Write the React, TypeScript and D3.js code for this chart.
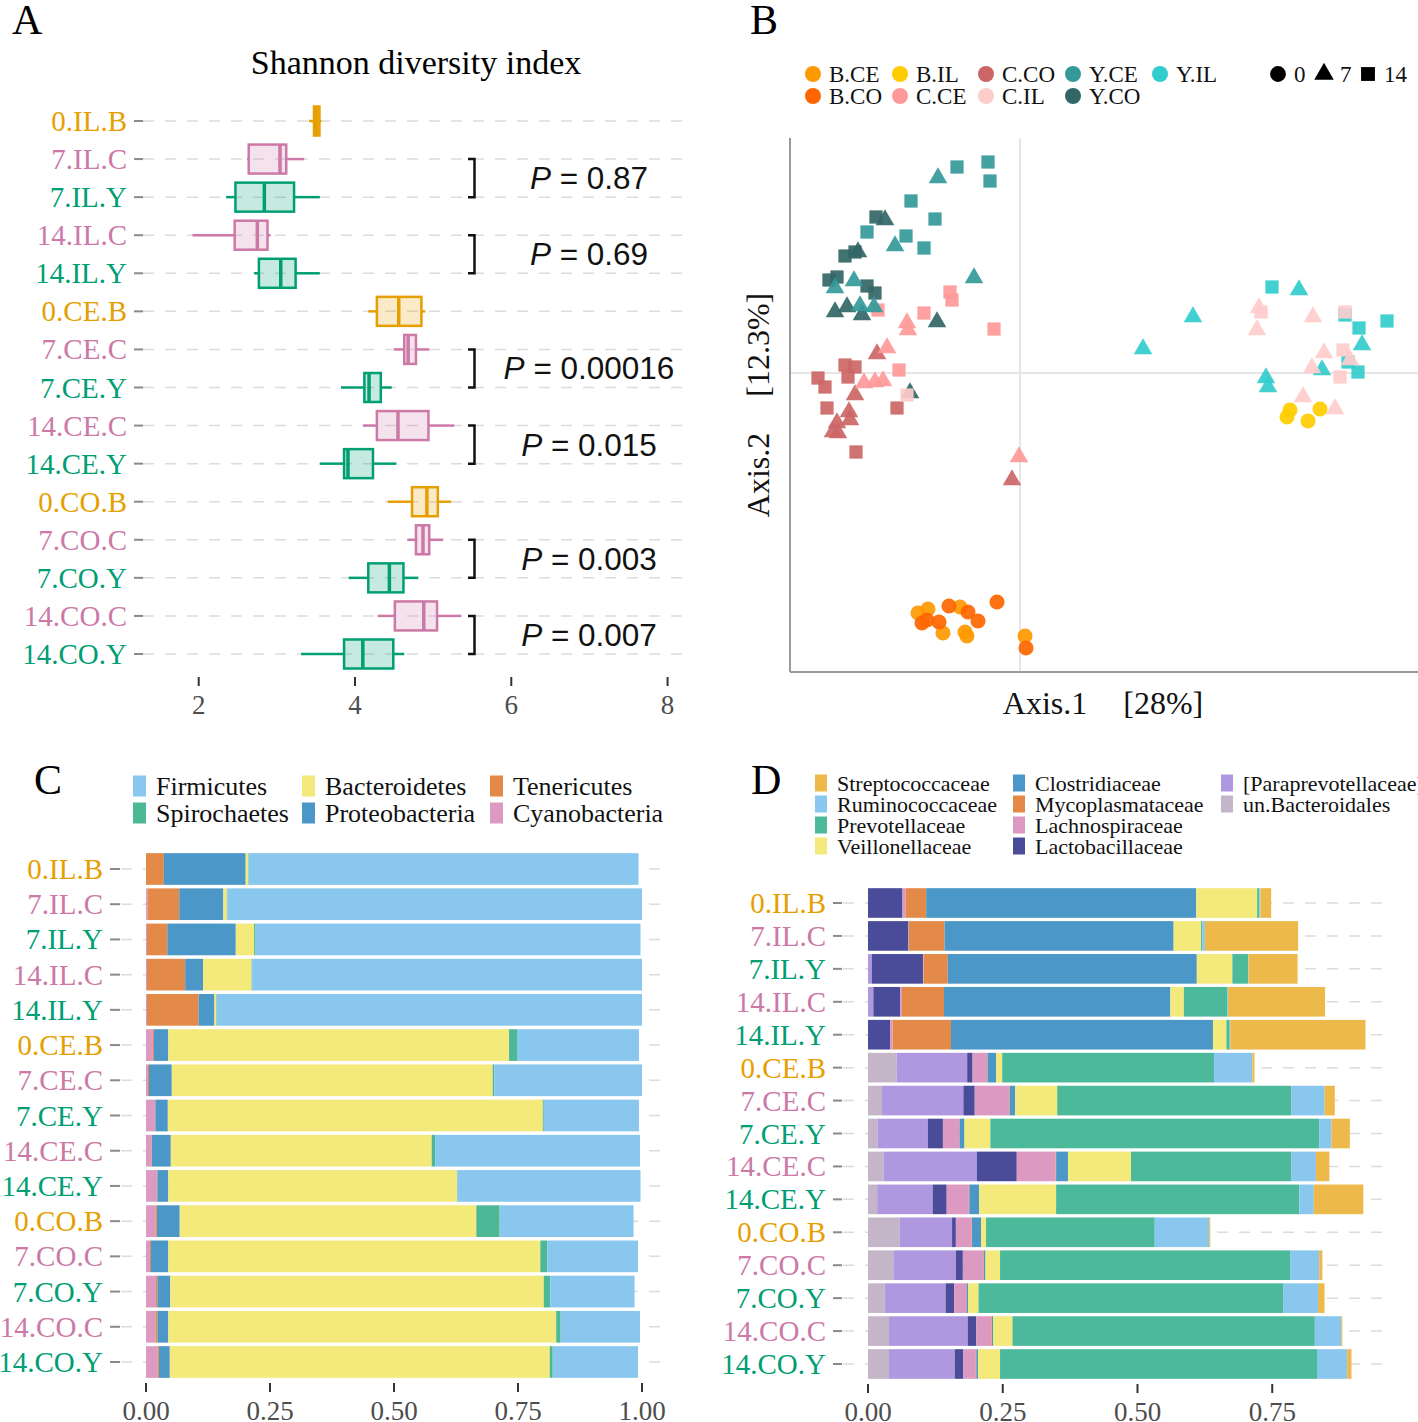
import React from 'react';
import * as d3 from 'd3';

const SERIF = '"Liberation Serif", "Times New Roman", serif';
const SANS = '"Liberation Sans", Arial, sans-serif';

const ORANGE = '#E69F00';
const PINK = '#CC79A7';
const GREEN = '#009E73';

const groups = ['0.IL.B', '7.IL.C', '7.IL.Y', '14.IL.C', '14.IL.Y', '0.CE.B', '7.CE.C', '7.CE.Y', '14.CE.C', '14.CE.Y', '0.CO.B', '7.CO.C', '7.CO.Y', '14.CO.C', '14.CO.Y'];
const groupColor = (g: string) => (g.endsWith('B') ? ORANGE : g.endsWith('C') ? PINK : GREEN);

// ---------- Panel A: Shannon diversity ----------
const shannonLow = [3.41, 2.62, 2.35, 1.92, 2.71, 4.17, 4.50, 3.82, 4.10, 3.55, 4.42, 4.67, 3.92, 4.29, 3.31];
const shannonQ1 = [3.475, 2.64, 2.47, 2.46, 2.77, 4.28, 4.63, 4.12, 4.28, 3.86, 4.73, 4.78, 4.17, 4.51, 3.86];
const shannonMed = [3.51, 3.04, 2.84, 2.75, 3.05, 4.56, 4.68, 4.18, 4.55, 3.91, 4.92, 4.87, 4.44, 4.88, 4.10];
const shannonQ3 = [3.545, 3.12, 3.22, 2.88, 3.24, 4.85, 4.78, 4.33, 4.94, 4.23, 5.06, 4.95, 4.62, 5.05, 4.49];
const shannonHigh = [3.57, 3.35, 3.55, 2.92, 3.55, 4.90, 4.95, 4.47, 5.27, 4.53, 5.23, 5.13, 4.81, 5.36, 4.63];
const shannonTicks = [2, 4, 6, 8];
const pPairs: [string, string][] = [['7.IL.C', '7.IL.Y'], ['14.IL.C', '14.IL.Y'], ['7.CE.C', '7.CE.Y'], ['14.CE.C', '14.CE.Y'], ['7.CO.C', '7.CO.Y'], ['14.CO.C', '14.CO.Y']];
const pValues = ['0.87', '0.69', '0.00016', '0.015', '0.003', '0.007'];

// ---------- Panel B: PCoA ----------
const pcoaGroups = ['B.CE', 'B.CO', 'B.IL', 'C.CE', 'C.CO', 'C.IL', 'Y.CE', 'Y.CO', 'Y.IL'];
const pcoaColors = ['#FF9900', '#FF6600', '#FFCC00', '#FF9999', '#CC6666', '#FFCCCC', '#339999', '#336666', '#33CCCC'];
const pcoaDays = ['0', '7', '14'];
// [group, day, Axis.1, Axis.2]
const pcoaPoints: [string, string, number, number][] = [
  ['C.CO', '14', -0.202, -0.005], ['C.CO', '14', -0.195, -0.014], ['C.CO', '14', -0.175, 0.008], ['C.CO', '14', -0.165, 0.006],
  ['C.CO', '14', -0.172, -0.004], ['C.CO', '14', -0.193, -0.035], ['C.CO', '14', -0.123, -0.035], ['C.CO', '14', -0.164, -0.079],
  ['C.CO', '7', -0.143, 0.019], ['C.CO', '7', -0.165, -0.022], ['C.CO', '7', -0.171, -0.039], ['C.CO', '7', -0.170, -0.047],
  ['C.CO', '7', -0.183, -0.050], ['C.CO', '7', -0.187, -0.059], ['C.CO', '7', -0.182, -0.060], ['C.CO', '7', -0.008, -0.107],
  ['C.CE', '14', -0.070, 0.081], ['C.CE', '14', -0.068, 0.073], ['C.CE', '14', -0.096, 0.060], ['C.CE', '14', -0.142, 0.063],
  ['C.CE', '14', -0.026, 0.044], ['C.CE', '14', -0.121, 0.003],
  ['C.CE', '7', -0.113, 0.050], ['C.CE', '7', -0.112, 0.043], ['C.CE', '7', -0.133, 0.025], ['C.CE', '7', -0.156, -0.010],
  ['C.CE', '7', -0.145, -0.009], ['C.CE', '7', -0.137, -0.008], ['C.CE', '7', -0.001, -0.084],
  ['Y.CO', '14', -0.144, 0.156], ['Y.CO', '14', -0.165, 0.121], ['Y.CO', '14', -0.175, 0.117], ['Y.CO', '14', -0.191, 0.093],
  ['Y.CO', '14', -0.183, 0.096], ['Y.CO', '14', -0.153, 0.087], ['Y.CO', '14', -0.145, 0.080],
  ['Y.CO', '7', -0.135, 0.153], ['Y.CO', '7', -0.162, 0.121], ['Y.CO', '7', -0.185, 0.061], ['Y.CO', '7', -0.173, 0.066],
  ['Y.CO', '7', -0.158, 0.058], ['Y.CO', '7', -0.083, 0.051], ['Y.CO', '7', -0.110, -0.020],
  ['Y.CE', '14', -0.032, 0.211], ['Y.CE', '14', -0.030, 0.192], ['Y.CE', '14', -0.063, 0.206], ['Y.CE', '14', -0.109, 0.172],
  ['Y.CE', '14', -0.085, 0.154], ['Y.CE', '14', -0.114, 0.137], ['Y.CE', '14', -0.096, 0.125], ['Y.CE', '14', -0.153, 0.141],
  ['Y.CE', '7', -0.082, 0.195], ['Y.CE', '7', -0.125, 0.127], ['Y.CE', '7', -0.046, 0.095], ['Y.CE', '7', -0.166, 0.092],
  ['Y.CE', '7', -0.185, 0.085], ['Y.CE', '7', -0.160, 0.067], ['Y.CE', '7', -0.146, 0.066],
  ['Y.IL', '14', 0.252, 0.086], ['Y.IL', '14', 0.367, 0.052], ['Y.IL', '14', 0.339, 0.045], ['Y.IL', '14', 0.338, 0.001],
  ['Y.IL', '14', 0.325, 0.058], ['Y.IL', '14', 0.328, 0.011],
  ['Y.IL', '7', 0.279, 0.083], ['Y.IL', '7', 0.173, 0.056], ['Y.IL', '7', 0.123, 0.024], ['Y.IL', '7', 0.246, -0.005],
  ['Y.IL', '7', 0.248, -0.014], ['Y.IL', '7', 0.302, 0.003], ['Y.IL', '7', 0.342, 0.028],
  ['C.IL', '14', -0.113, -0.022], ['C.IL', '14', 0.241, 0.061], ['C.IL', '14', 0.325, 0.061], ['C.IL', '14', 0.323, 0.023], ['C.IL', '14', 0.320, -0.004],
  ['C.IL', '7', 0.239, 0.065], ['C.IL', '7', 0.237, 0.043], ['C.IL', '7', 0.293, 0.056], ['C.IL', '7', 0.304, 0.020],
  ['C.IL', '7', 0.292, 0.005], ['C.IL', '7', 0.283, -0.024], ['C.IL', '7', 0.315, -0.036], ['C.IL', '7', 0.330, 0.013],
  ['B.IL', '0', 0.270, -0.037], ['B.IL', '0', 0.267, -0.044], ['B.IL', '0', 0.288, -0.048], ['B.IL', '0', 0.300, -0.036],
  ['B.CE', '0', -0.102, -0.240], ['B.CE', '0', -0.092, -0.236], ['B.CE', '0', -0.077, -0.260], ['B.CE', '0', -0.060, -0.234],
  ['B.CE', '0', -0.055, -0.259], ['B.CE', '0', -0.053, -0.263], ['B.CE', '0', 0.005, -0.263],
  ['B.CO', '0', -0.098, -0.250], ['B.CO', '0', -0.093, -0.247], ['B.CO', '0', -0.081, -0.249], ['B.CO', '0', -0.071, -0.233],
  ['B.CO', '0', -0.052, -0.239], ['B.CO', '0', -0.042, -0.248], ['B.CO', '0', -0.023, -0.229], ['B.CO', '0', 0.006, -0.275],
];

// ---------- Panel C: phylum ----------
const phylumKeys = ['Cyanobacteria', 'Tenericutes', 'Proteobacteria', 'Bacteroidetes', 'Spirochaetes', 'Firmicutes'];
const phylumLegend = ['Firmicutes', 'Spirochaetes', 'Bacteroidetes', 'Proteobacteria', 'Tenericutes', 'Cyanobacteria'];
const phylumColors: Record<string, string> = {
  Firmicutes: '#89C7EE', Bacteroidetes: '#F4E97B', Tenericutes: '#E48A48',
  Spirochaetes: '#4DB895', Proteobacteria: '#4A97C8', Cyanobacteria: '#DC9AC2',
};
const cyanobacteria = [0, 0.003, 0.002, 0.002, 0.002, 0.014, 0.004, 0.018, 0.011, 0.022, 0.019, 0.008, 0.020, 0.019, 0.023];
const tenericutes = [0.036, 0.064, 0.041, 0.077, 0.104, 0.002, 0.002, 0.001, 0.001, 0.001, 0.003, 0.002, 0.003, 0.004, 0.003];
const proteobacteria = [0.165, 0.089, 0.138, 0.036, 0.032, 0.029, 0.046, 0.025, 0.038, 0.022, 0.046, 0.035, 0.026, 0.022, 0.022];
const bacteroidetes = [0.005, 0.007, 0.037, 0.098, 0.004, 0.687, 0.647, 0.756, 0.526, 0.582, 0.598, 0.750, 0.753, 0.782, 0.766];
const spirochaetes = [0.001, 0.001, 0.003, 0.001, 0.001, 0.016, 0.003, 0.002, 0.007, 0.001, 0.047, 0.014, 0.013, 0.009, 0.006];
const firmicutes = [0.786, 0.836, 0.776, 0.786, 0.857, 0.246, 0.298, 0.192, 0.413, 0.369, 0.270, 0.183, 0.170, 0.160, 0.172];
const phylumTicks = [0, 0.25, 0.5, 0.75, 1];

// ---------- Panel D: family ----------
const familyKeys = ['un.Bacteroidales', '[Paraprevotellaceae]', 'Lactobacillaceae', 'Lachnospiraceae', 'Mycoplasmataceae', 'Clostridiaceae', 'Veillonellaceae', 'Prevotellaceae', 'Ruminococcaceae', 'Streptococcaceae'];
const familyLegend = ['Streptococcaceae', 'Ruminococcaceae', 'Prevotellaceae', 'Veillonellaceae', 'Clostridiaceae', 'Mycoplasmataceae', 'Lachnospiraceae', 'Lactobacillaceae', '[Paraprevotellaceae]', 'un.Bacteroidales'];
const familyColors: Record<string, string> = {
  Streptococcaceae: '#ECB94A', Ruminococcaceae: '#89C7EE', Prevotellaceae: '#4CBA9A', Veillonellaceae: '#F4E97B',
  Clostridiaceae: '#4A97C8', Mycoplasmataceae: '#E48A48', Lachnospiraceae: '#DC9AC2', Lactobacillaceae: '#4A4B99',
  '[Paraprevotellaceae]': '#AF98E0', 'un.Bacteroidales': '#C4B5C8',
};
const unBacteroidales = [0, 0, 0, 0, 0, 0.053, 0.026, 0.018, 0.029, 0.017, 0.059, 0.047, 0.031, 0.039, 0.039];
const paraprevotellaceae = [0, 0, 0.007, 0.010, 0, 0.131, 0.151, 0.093, 0.173, 0.103, 0.097, 0.116, 0.113, 0.146, 0.122];
const lactobacillaceae = [0.064, 0.075, 0.095, 0.050, 0.041, 0.010, 0.021, 0.028, 0.074, 0.026, 0.007, 0.013, 0.016, 0.016, 0.016];
const lachnospiraceae = [0.006, 0.001, 0.001, 0.003, 0.005, 0.027, 0.064, 0.030, 0.072, 0.041, 0.029, 0.038, 0.022, 0.028, 0.023];
const mycoplasmataceae = [0.038, 0.066, 0.045, 0.078, 0.108, 0.001, 0.001, 0.001, 0.001, 0.001, 0.001, 0.001, 0.001, 0.001, 0.001];
const clostridiaceae = [0.501, 0.425, 0.462, 0.420, 0.486, 0.016, 0.010, 0.009, 0.022, 0.018, 0.017, 0.003, 0.003, 0.002, 0.003];
const veillonellaceae = [0.113, 0.051, 0.066, 0.025, 0.025, 0.011, 0.078, 0.048, 0.117, 0.143, 0.009, 0.027, 0.019, 0.036, 0.041];
const prevotellaceae = [0.004, 0.002, 0.029, 0.081, 0.006, 0.393, 0.434, 0.610, 0.297, 0.451, 0.313, 0.539, 0.566, 0.561, 0.588];
const ruminococcaceae = [0.002, 0.005, 0.001, 0.001, 0.001, 0.071, 0.062, 0.023, 0.046, 0.027, 0.101, 0.053, 0.064, 0.049, 0.056];
const streptococcaceae = [0.020, 0.173, 0.091, 0.180, 0.251, 0.004, 0.019, 0.034, 0.025, 0.092, 0.002, 0.006, 0.012, 0.002, 0.008];
const familyTicks = [0, 0.25, 0.5, 0.75];

type Row = Record<string, number | string>;

function buildRows(keys: string[], cols: number[][]): Row[] {
  return groups.map((g, i) => {
    const r: Row = { group: g };
    keys.forEach((k, j) => { r[k] = cols[j][i]; });
    return r;
  });
}

const phylumRows = buildRows(phylumKeys, [cyanobacteria, tenericutes, proteobacteria, bacteroidetes, spirochaetes, firmicutes]);
const familyRows = buildRows(familyKeys, [unBacteroidales, paraprevotellaceae, lactobacillaceae, lachnospiraceae, mycoplasmataceae, clostridiaceae, veillonellaceae, prevotellaceae, ruminococcaceae, streptococcaceae]);

const fmt2 = d3.format('.2f');

function StackedPanel(props: {
  rows: Row[]; keys: string[]; colors: Record<string, string>;
  x: d3.ScaleLinear<number, number>; y: d3.ScalePoint<string>;
  left: number; right: number; labelX: number; ticks: number[]; axisY: number;
}) {
  const { rows, keys, colors, x, y, left, right, labelX, ticks, axisY } = props;
  const series = d3.stack<Row>().keys(keys).value((d, k) => d[k] as number)(rows as any);
  const bh = y.step() * 0.9;
  return (
    <g>
      {groups.map((g) => (
        <g key={g}>
          <line x1={left} x2={right} y1={y(g)} y2={y(g)} stroke="#dcdcdc" strokeWidth={1.5} strokeDasharray="11 11" />
          <line x1={labelX + 7} x2={left - 1} y1={y(g)} y2={y(g)} stroke="#8a8a8a" strokeWidth={2} />
          <text x={labelX} y={(y(g) as number) + 10} textAnchor="end" fontFamily={SERIF} fontSize={29} fill={groupColor(g)}>{g}</text>
        </g>
      ))}
      {series.map((s) => (
        <g key={s.key} fill={colors[s.key]}>
          {s.map((d, i) => (
            <rect key={i} x={x(d[0])} width={Math.max(0, x(d[1]) - x(d[0]))} y={(y(rows[i].group as string) as number) - bh / 2} height={bh} />
          ))}
        </g>
      ))}
      {ticks.map((t) => (
        <g key={t}>
          <line x1={x(t)} x2={x(t)} y1={axisY} y2={axisY + 9} stroke="#333" strokeWidth={2} />
          <text x={x(t)} y={axisY + 37} textAnchor="middle" fontFamily={SERIF} fontSize={27} fill="#4d4d4d">{fmt2(t)}</text>
        </g>
      ))}
    </g>
  );
}

export default function App() {
  // Panel A
  const xA = d3.scaleLinear().domain([1.287, 8.287]).range([143, 690]);
  const yA = d3.scalePoint<string>().domain(groups).range([121, 654]);
  const boxH = 29;

  // Panel B
  const xB = d3.scaleLinear().domain([-0.23, 0.398]).range([790, 1418]);
  const yB = d3.scaleLinear().domain([-0.299, 0.235]).range([672, 138]);
  const colorB = d3.scaleOrdinal<string, string>().domain(pcoaGroups).range(pcoaColors);
  const shapeB = d3.scaleOrdinal<string, d3.SymbolType>().domain(pcoaDays).range([d3.symbolCircle, d3.symbolTriangle, d3.symbolSquare]);
  const sizeB: Record<string, number> = { '0': 180, '7': 150, '14': 175 };
  const sym = (day: string) => d3.symbol().type(shapeB(day)).size(sizeB[day])() as string;
  const legendCols = [813, 900, 986, 1073, 1160];

  // Panel C
  const xC = d3.scaleLinear().domain([0, 1]).range([146, 642]);
  const yC = d3.scalePoint<string>().domain(groups).range([869, 1362]);
  // Panel D
  const xD = d3.scaleLinear().domain([0, 1]).range([868, 1407]);
  const yD = d3.scalePoint<string>().domain(groups).range([903, 1364]);

  return (
    <div style={{ position: 'absolute', left: 0, top: 0 }}>
      <svg width={1418} height={1422} style={{ display: 'block', background: '#fff' }}>
        {/* Panel letters */}
        <text x={12} y={34} fontFamily={SERIF} fontSize={42}>A</text>
        <text x={750} y={34} fontFamily={SERIF} fontSize={42}>B</text>
        <text x={34} y={794} fontFamily={SERIF} fontSize={42}>C</text>
        <text x={751} y={794} fontFamily={SERIF} fontSize={42}>D</text>

        {/* ===== Panel A ===== */}
        <text x={416} y={74} textAnchor="middle" fontFamily={SERIF} fontSize={34}>Shannon diversity index</text>
        {groups.map((g) => (
          <g key={g}>
            <line x1={143} x2={690} y1={yA(g)} y2={yA(g)} stroke="#dcdcdc" strokeWidth={1.5} strokeDasharray="11 11" />
            <line x1={134} x2={143} y1={yA(g)} y2={yA(g)} stroke="#8a8a8a" strokeWidth={2} />
            <text x={127} y={(yA(g) as number) + 10} textAnchor="end" fontFamily={SERIF} fontSize={29} fill={groupColor(g)}>{g}</text>
          </g>
        ))}
        {groups.map((g, i) => {
          const c = groupColor(g);
          const cy = yA(g) as number;
          return (
            <g key={g} stroke={c}>
              <line x1={xA(shannonLow[i])} x2={xA(shannonQ1[i])} y1={cy} y2={cy} strokeWidth={2.5} />
              <line x1={xA(shannonQ3[i])} x2={xA(shannonHigh[i])} y1={cy} y2={cy} strokeWidth={2.5} />
              <rect x={xA(shannonQ1[i])} y={cy - boxH / 2} width={xA(shannonQ3[i]) - xA(shannonQ1[i])} height={boxH}
                fill={c} fillOpacity={0.22} strokeWidth={2.5} />
              <line x1={xA(shannonMed[i])} x2={xA(shannonMed[i])} y1={cy - boxH / 2} y2={cy + boxH / 2} strokeWidth={3.5} />
            </g>
          );
        })}
        {pPairs.map(([a, b], i) => {
          const t = yA(a) as number;
          const bt = yA(b) as number;
          return (
            <g key={a}>
              <path d={`M468,${t}H474.5V${bt}H468`} fill="none" stroke="#111" strokeWidth={2.5} />
              <text x={589} y={(t + bt) / 2 + 11} textAnchor="middle" fontFamily={SANS} fontSize={31.5} fill="#111">
                <tspan fontStyle="italic">P</tspan>{' = ' + pValues[i]}
              </text>
            </g>
          );
        })}
        {shannonTicks.map((t) => (
          <g key={t}>
            <line x1={xA(t)} x2={xA(t)} y1={677} y2={686} stroke="#333" strokeWidth={2} />
            <text x={xA(t)} y={714} textAnchor="middle" fontFamily={SERIF} fontSize={27} fill="#4d4d4d">{t}</text>
          </g>
        ))}

        {/* ===== Panel B ===== */}
        {pcoaGroups.map((g, i) => {
          const col = Math.floor(i / 2);
          const row = i % 2;
          const cx = legendCols[col];
          const cy = row === 0 ? 74 : 96;
          return (
            <g key={g}>
              <circle cx={cx} cy={cy} r={8} fill={colorB(g)} />
              <text x={cx + 16} y={cy + 8} fontFamily={SERIF} fontSize={23} fill="#111">{g}</text>
            </g>
          );
        })}
        {pcoaDays.map((d, i) => {
          const cx = [1278, 1324, 1368][i];
          return (
            <g key={d}>
              <path d={d3.symbol().type(shapeB(d)).size(sizeB[d] * 1.1)() as string} transform={`translate(${cx},74)`} fill="#000" />
              <text x={cx + 16} y={82} fontFamily={SERIF} fontSize={23} fill="#111">{d}</text>
            </g>
          );
        })}
        <line x1={xB(0)} x2={xB(0)} y1={138} y2={672} stroke="#e6e6e6" strokeWidth={2} />
        <line x1={790} x2={1418} y1={yB(0)} y2={yB(0)} stroke="#e6e6e6" strokeWidth={2} />
        <line x1={790} x2={790} y1={138} y2={672} stroke="#9a9a9a" strokeWidth={2} />
        <line x1={790} x2={1418} y1={672} y2={672} stroke="#9a9a9a" strokeWidth={2} />
        {pcoaPoints.map((p, i) => (
          <path key={i} d={sym(p[1])} transform={`translate(${xB(p[2])},${yB(p[3])})`} fill={colorB(p[0])} fillOpacity={0.92} />
        ))}
        <text x={1103} y={714} textAnchor="middle" fontFamily={SERIF} fontSize={32} fill="#111">
          <tspan>Axis.1</tspan><tspan dx={36}>[28%]</tspan>
        </text>
        <text transform="translate(769,405) rotate(-90)" textAnchor="middle" fontFamily={SERIF} fontSize={32} fill="#111">
          <tspan>Axis.2</tspan><tspan dx={36}>[12.3%]</tspan>
        </text>

        {/* ===== Panel C ===== */}
        {phylumLegend.map((k, i) => {
          const col = Math.floor(i / 2);
          const row = i % 2;
          const kx = [133, 302, 490][col];
          const cy = row === 0 ? 786 : 813;
          return (
            <g key={k}>
              <rect x={kx} y={cy - 10.5} width={13} height={21} fill={phylumColors[k]} />
              <text x={kx + 23} y={cy + 9} fontFamily={SERIF} fontSize={26} fill="#111">{k}</text>
            </g>
          );
        })}
        <StackedPanel rows={phylumRows} keys={phylumKeys} colors={phylumColors} x={xC} y={yC}
          left={121} right={667} labelX={103} ticks={phylumTicks} axisY={1383} />

        {/* ===== Panel D ===== */}
        {familyLegend.map((k, i) => {
          const col = Math.floor(i / 4);
          const row = i % 4;
          const kx = [815, 1013, 1221][col];
          const cy = 783 + row * 21;
          return (
            <g key={k}>
              <rect x={kx} y={cy - 8.5} width={12} height={17} fill={familyColors[k]} />
              <text x={kx + 22} y={cy + 8} fontFamily={SERIF} fontSize={22} fill="#111">{k}</text>
            </g>
          );
        })}
        <StackedPanel rows={familyRows} keys={familyKeys} colors={familyColors} x={xD} y={yD}
          left={843} right={1392} labelX={826} ticks={familyTicks} axisY={1384} />
      </svg>
    </div>
  );
}
